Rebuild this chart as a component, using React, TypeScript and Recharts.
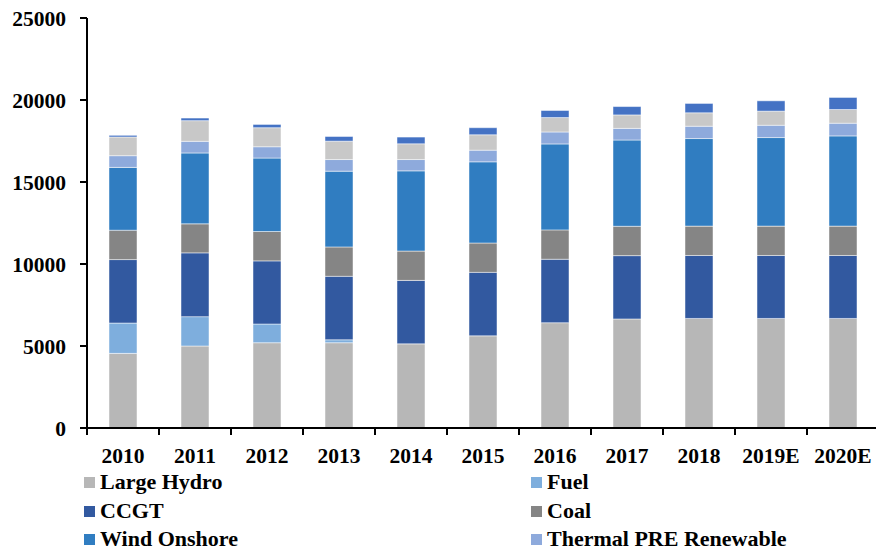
import React, { useLayoutEffect } from 'react';
import { BarChart, Bar, XAxis, YAxis } from 'recharts';

// categories
const YEARS = ['2010', '2011', '2012', '2013', '2014', '2015', '2016', '2017', '2018', '2019E', '2020E'];

// series values (bottom to top of each stack)
const LARGE_HYDRO = [4550, 5000, 5200, 5200, 5130, 5620, 6420, 6650, 6680, 6680, 6680];
const FUEL = [1850, 1790, 1140, 180, 0, 0, 0, 0, 0, 0, 0];
const CCGT = [3870, 3890, 3850, 3870, 3870, 3870, 3870, 3860, 3840, 3840, 3840];
const COAL = [1790, 1770, 1790, 1790, 1790, 1790, 1790, 1790, 1790, 1790, 1790];
const WIND_ONSHORE = [3830, 4320, 4480, 4620, 4890, 4950, 5240, 5260, 5340, 5400, 5500];
const THERMAL_PRE = [715, 710, 690, 710, 690, 710, 730, 710, 750, 750, 775];
const OTHER_A = [1140, 1260, 1160, 1120, 960, 940, 880, 820, 820, 860, 835];
const OTHER_B = [100, 160, 200, 285, 410, 430, 430, 510, 570, 630, 735];

const Y_TICKS = [0, 5000, 10000, 15000, 20000, 25000];

const SERIES = [
  { key: 'largeHydro', name: 'Large Hydro', values: LARGE_HYDRO, color: '#b7b7b7', legend: true },
  { key: 'fuel', name: 'Fuel', values: FUEL, color: '#7eaedd', legend: true },
  { key: 'ccgt', name: 'CCGT', values: CCGT, color: '#3259a0', legend: true },
  { key: 'coal', name: 'Coal', values: COAL, color: '#858585', legend: true },
  { key: 'windOnshore', name: 'Wind Onshore', values: WIND_ONSHORE, color: '#307dc1', legend: true },
  { key: 'thermalPre', name: 'Thermal PRE Renewable', values: THERMAL_PRE, color: '#8eaadc', legend: true },
  { key: 'otherA', name: 'Other A', values: OTHER_A, color: '#c8c8c8', legend: false },
  { key: 'otherB', name: 'Other B', values: OTHER_B, color: '#4472c4', legend: false },
];

const data = YEARS.map((year, i) => {
  const row: Record<string, string | number> = { year };
  SERIES.forEach((s) => {
    row[s.key] = s.values[i];
  });
  return row;
});

const FONT = '"Liberation Serif", "Times New Roman", serif';
const AXIS_FONT_SIZE = 21.5;
const CHART_W = 884;
const CHART_H = 554;
const Y_AXIS_W = 87;
const MARGIN = { top: 18, right: 5, left: 0, bottom: 96 };
const BAND = (CHART_W - Y_AXIS_W - MARGIN.left - MARGIN.right) / YEARS.length;

const XTick = (props: any) => {
  const { x, y, payload, index } = props;
  const half = BAND / 2;
  return (
    <g>
      <text x={x} y={y + 27} textAnchor="middle" fontSize={AXIS_FONT_SIZE} fontWeight="bold" fontFamily={FONT} fill="#000">
        {payload.value}
      </text>
      <line x1={x + half} x2={x + half} y1={y - 8} y2={y - 1} stroke="#000" strokeWidth={2} />
      {index === 0 && <line x1={x - half} x2={x - half} y1={y - 8} y2={y - 1} stroke="#000" strokeWidth={2} />}
    </g>
  );
};

const LEGEND_POS = [
  { left: 84, top: 468 },
  { left: 531, top: 468 },
  { left: 84, top: 497 },
  { left: 531, top: 497 },
  { left: 84, top: 525 },
  { left: 531, top: 525 },
];

const App: React.FC = () => {
  // page is exactly chart-sized: drop the body margin and any scrollbars
  useLayoutEffect(() => {
    document.documentElement.style.overflow = 'hidden';
    document.body.style.margin = '0';
    document.body.style.overflow = 'hidden';
  }, []);

  const legendItems = SERIES.filter((s) => s.legend);
  return (
    <div style={{ position: 'relative', width: 876, height: 554, overflow: 'hidden', background: '#fff' }}>
      <BarChart width={CHART_W} height={CHART_H} data={data} margin={MARGIN} barSize={28}>
        <XAxis
          dataKey="year"
          height={30}
          axisLine={{ stroke: '#000', strokeWidth: 2 }}
          tickLine={false}
          tick={<XTick />}
          interval={0}
        />
        <YAxis
          width={Y_AXIS_W}
          domain={[0, 25000]}
          ticks={Y_TICKS}
          interval={0}
          axisLine={{ stroke: '#000', strokeWidth: 2 }}
          tickLine={{ stroke: '#000', strokeWidth: 2 }}
          tickSize={7}
          tickMargin={14}
          tick={{ fontSize: AXIS_FONT_SIZE, fontWeight: 'bold', fontFamily: FONT, fill: '#000' }}
        />
        {SERIES.map((s) => (
          <Bar
            key={s.key}
            dataKey={s.key}
            name={s.name}
            stackId="a"
            fill={s.color}
            stroke="#ffffff"
            strokeOpacity={0.6}
            strokeWidth={0.8}
            isAnimationActive={false}
          />
        ))}
      </BarChart>
      {legendItems.map((s, i) => (
        <div
          key={s.key}
          style={{
            position: 'absolute',
            left: LEGEND_POS[i].left,
            top: LEGEND_POS[i].top,
            display: 'flex',
            alignItems: 'center',
            fontFamily: FONT,
            fontWeight: 'bold',
            fontSize: 22,
            lineHeight: '28px',
            color: '#000',
            whiteSpace: 'nowrap',
          }}
        >
          <span style={{ display: 'inline-block', width: 11, height: 11, background: s.color, marginRight: 5 }} />
          {s.name}
        </div>
      ))}
    </div>
  );
};

export default App;
